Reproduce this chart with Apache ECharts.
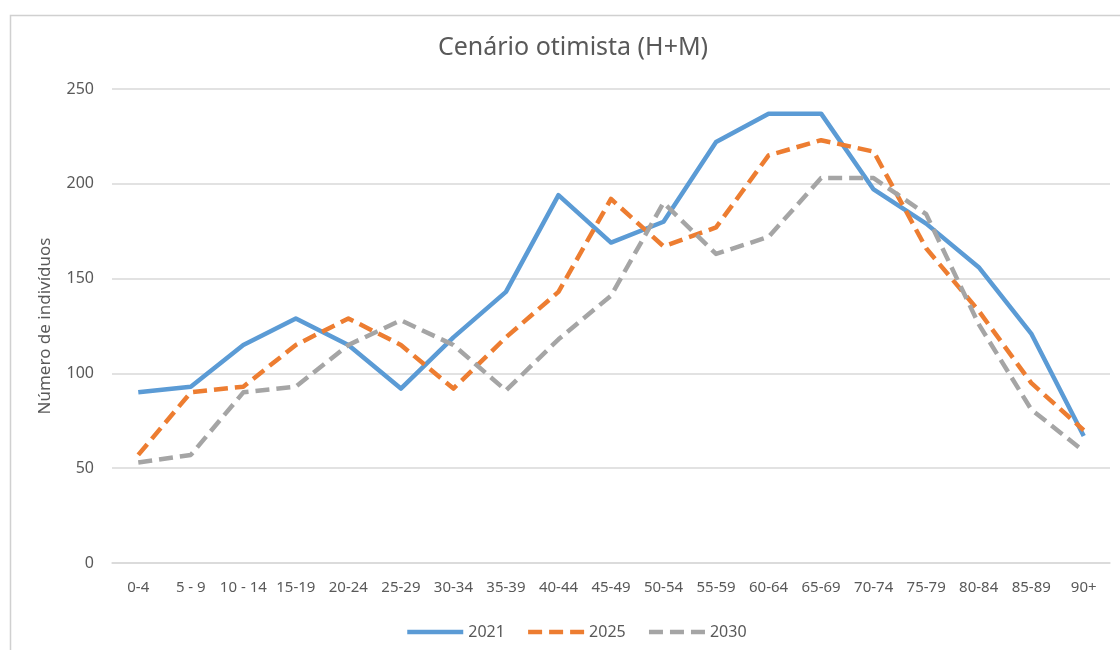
<!DOCTYPE html>
<html>
<head>
<meta charset="utf-8">
<title>Cenário otimista (H+M)</title>
<script src="https://cdn.jsdelivr.net/npm/echarts@6/dist/echarts.min.js"></script>
<style>
  html, body { margin: 0; padding: 0; background: #fff; }
  #chart { width: 1120px; height: 650px; }
</style>
</head>
<body>
<div id="chart"></div>
<script>
// grupos etários (eixo x)
var ageGroups = ['0-4', '5 - 9', '10 - 14', '15-19', '20-24', '25-29', '30-34', '35-39', '40-44',
  '45-49', '50-54', '55-59', '60-64', '65-69', '70-74', '75-79', '80-84', '85-89', '90+'];

// número de indivíduos por ano
var pop2021 = [90, 93, 115, 129, 115, 92, 119, 143, 194, 169, 180, 222, 237, 237, 197, 179, 156, 121, 67];
var pop2025 = [57, 90, 93, 115, 129, 115, 92, 119, 143, 192, 167, 177, 215, 223, 217, 166, 133, 95, 70];
var pop2030 = [53, 57, 90, 93, 115, 128, 115, 91, 118, 141, 190, 163, 172, 203, 203, 184, 126, 81, 59];

var txt = '#595959';
var font = 'Noto Sans';

var chart = echarts.init(document.getElementById('chart'));

// linha da série: tracejada ou contínua
function lineSerie(name, data, color, dashed) {
  return {
    name: name,
    type: 'line',
    data: data,
    symbol: 'none',
    smooth: false,
    lineStyle: {
      color: color,
      width: 4.5,
      type: dashed ? [14, 7] : 'solid',
      join: 'round'
    },
    itemStyle: { color: color }
  };
}

var option = {
  animation: false,
  textStyle: { fontFamily: font, color: txt },
  graphic: [{
    // moldura do gráfico
    type: 'rect',
    left: 8,
    top: 13,
    shape: { width: 1140, height: 660 },
    style: { fill: 'none', stroke: '#d0d0d0', lineWidth: 1.5 },
    silent: true
  }],
  title: {
    text: 'Cenário otimista (H+M)',
    left: 568,
    top: 30,
    textAlign: 'center',
    textStyle: { fontFamily: font, fontSize: 25, fontWeight: 'normal', color: txt }
  },
  legend: {
    left: 400,
    top: 619,
    itemWidth: 56,
    itemHeight: 14,
    itemGap: 21,
    itemStyle: { opacity: 0 },
    lineStyle: { width: 4.5 },
    textStyle: { fontFamily: font, fontSize: 16, color: txt },
    data: ['2021', '2025', '2030']
  },
  grid: { left: 112, right: 10, top: 89, bottom: 87 },
  xAxis: {
    type: 'category',
    data: ageGroups,
    boundaryGap: true,
    axisLine: { lineStyle: { color: '#d9d9d9', width: 1.5 } },
    axisTick: { show: false },
    axisLabel: { interval: 0, fontFamily: font, fontSize: 15, color: txt, margin: 17 }
  },
  yAxis: {
    type: 'value',
    min: 0,
    max: 250,
    interval: 50,
    name: 'Número de indivíduos',
    nameLocation: 'middle',
    nameRotate: 90,
    nameGap: 58,
    nameTextStyle: { fontFamily: font, fontSize: 17, color: txt },
    axisLine: { show: false },
    axisTick: { show: false },
    axisLabel: { fontFamily: font, fontSize: 16, color: txt, margin: 18 },
    splitLine: { lineStyle: { color: '#d9d9d9', width: 1.5 } }
  },
  series: [
    lineSerie('2021', pop2021, '#5b9bd5', false),
    lineSerie('2025', pop2025, '#ed7d31', true),
    lineSerie('2030', pop2030, '#a5a5a5', true)
  ]
};

chart.setOption(option);
</script>
</body>
</html>
